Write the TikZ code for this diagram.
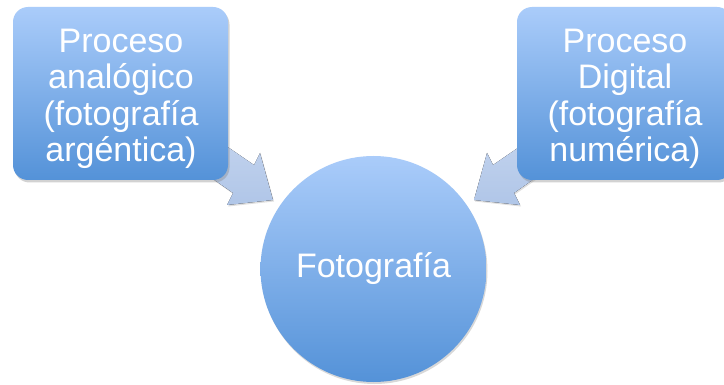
\documentclass[tikz,border=0pt]{standalone}
\usepackage{fontspec}
\setmainfont{Liberation Sans}
\usetikzlibrary{shadows,calc}
\definecolor{boxtop}{RGB}{170,204,250}
\definecolor{boxbot}{RGB}{84,146,216}
\definecolor{arrowtop}{RGB}{196,212,238}
\definecolor{arrowbot}{RGB}{176,198,232}
\tikzset{
  procbox/.style={rounded corners=15pt, top color=boxtop, bottom color=boxbot,
    draw=none, drop shadow={opacity=0.35, shadow xshift=1.5pt, shadow yshift=-2.5pt}},
  proctext/.style={text=white, align=center, font=\fontsize{34}{36.5}\selectfont},
  blockarrow/.style={top color=arrowtop, bottom color=arrowbot, draw=none,
    drop shadow={opacity=0.25, shadow xshift=1pt, shadow yshift=-1.5pt}},
  centercircle/.style={circle, top color=boxtop, bottom color=boxbot, draw=none,
    minimum size=226pt, inner sep=0pt,
    drop shadow={opacity=0.3, shadow xshift=1pt, shadow yshift=-2pt}}
}
\begin{document}
\begin{tikzpicture}[x=1pt,y=-1pt]
\useasboundingbox (0,0) rectangle (724,385);
\clip (0,0) rectangle (724,385);
\fill[white] (0,0) rectangle (724,385);
% left block arrow
\coordinate (la1) at (183,158);
\coordinate (la2) at (203,130);
\coordinate (la3) at (254,165);
\coordinate (la4) at (260,153);
\coordinate (la5) at (273,200);
\coordinate (la6) at (227,205);
\coordinate (la7) at (233,193);
\fill[blockarrow] (la1) -- (la2) -- (la3) -- (la4) -- (la5) -- (la6) -- (la7) -- cycle;
% right block arrow
\coordinate (ra1) at (564,158);
\coordinate (ra2) at (544,130);
\coordinate (ra3) at (493,165);
\coordinate (ra4) at (487,153);
\coordinate (ra5) at (474,200);
\coordinate (ra6) at (520,205);
\coordinate (ra7) at (514,193);
\fill[blockarrow] (ra1) -- (ra2) -- (ra3) -- (ra4) -- (ra5) -- (ra6) -- (ra7) -- cycle;
% boxes
\path[procbox] (13,7) rectangle (228,180);
\path[procbox] (517,7) rectangle (732,180);
\node[proctext] (left) at (121,99) {Proceso\\analógico\\(fotografía\\argéntica)};
\node[proctext] (right) at (625,99) {Proceso\\Digital\\(fotografía\\numérica)};
% circle
\node[centercircle, proctext] (foto) at (373.5,269) {Fotografía};
\end{tikzpicture}
\end{document}
